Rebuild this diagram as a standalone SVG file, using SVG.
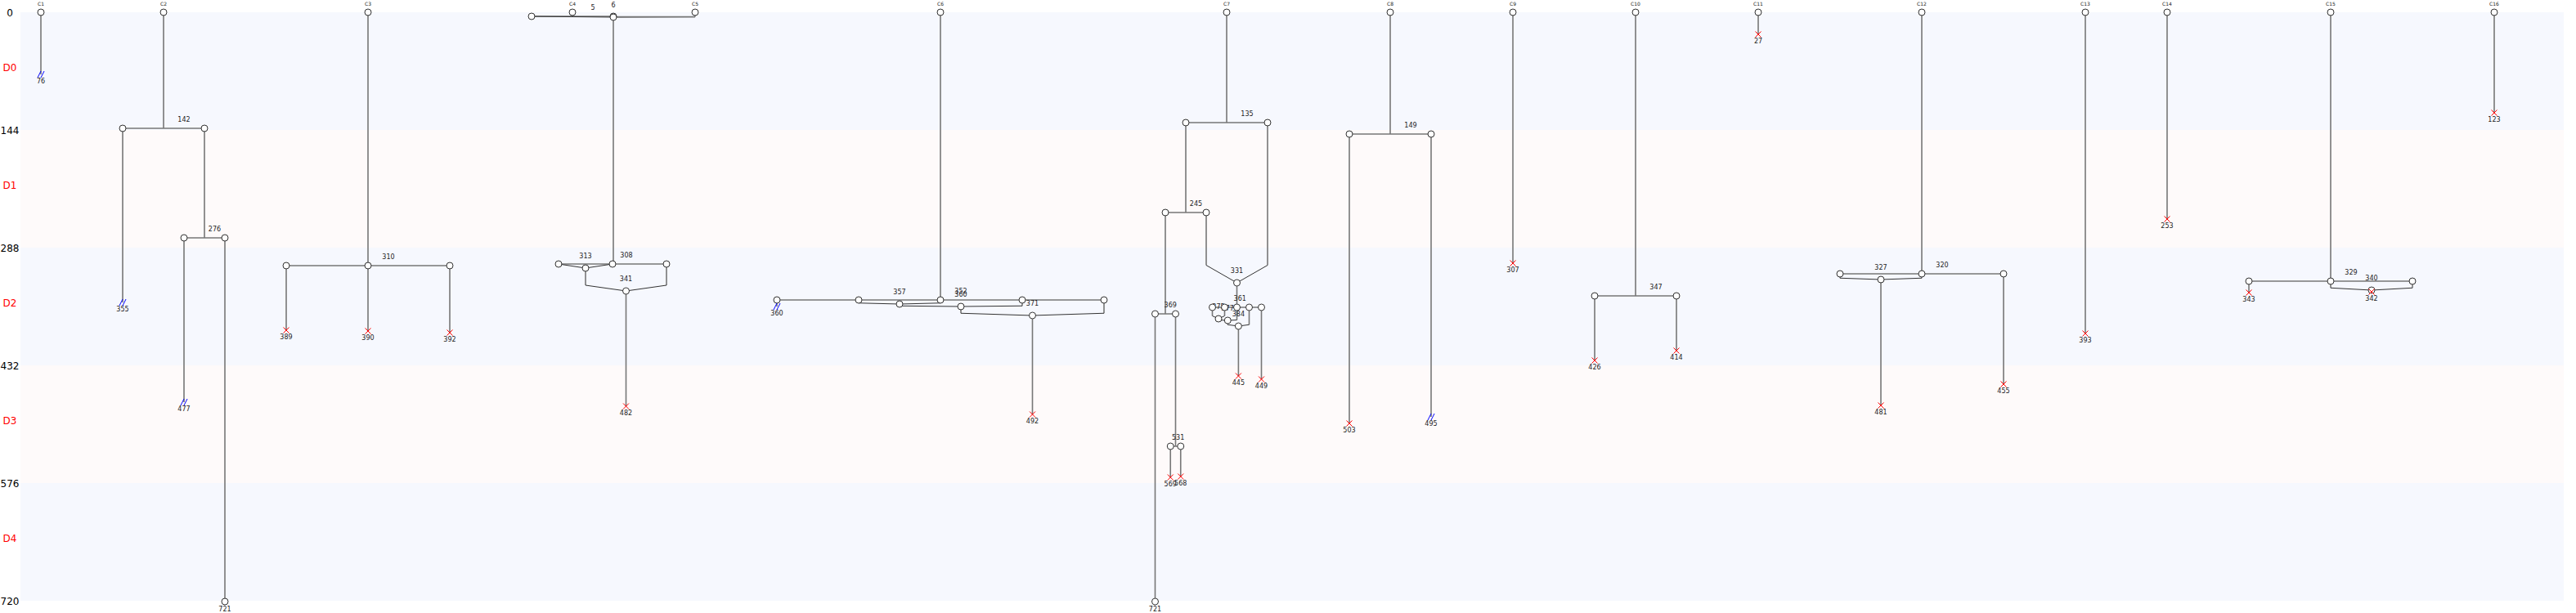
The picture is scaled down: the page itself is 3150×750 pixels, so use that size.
<svg xmlns="http://www.w3.org/2000/svg" width="3150" height="750" viewBox="0 0 3150 750">
<style>
.bb{fill:#f6f8fe}.bp{fill:#fefafa}
.ln{stroke:#777;stroke-width:1.6;fill:none}
.mg{stroke:#333;stroke-width:1;fill:none}
.nd{fill:#fff;stroke:#333;stroke-width:1}
.xm{stroke:#f00;stroke-width:1;fill:none}
.bk{stroke:#00f;stroke-width:1;fill:none}
text{font-family:"DejaVu Sans","Liberation Sans",sans-serif;text-anchor:middle}
.lb{font-size:8px;fill:#222}
.cl{font-size:6px;fill:#222}
.ax{font-size:12px;fill:#000}
.dl{font-size:12px;fill:#f00}
</style>
<defs>
<path id="X" class="xm" d="M-3.5,-3.5L3.5,3.5M-3.5,3.5L3.5,-3.5"/>
<path id="B" class="bk" d="M-4,4L0,-4M0,4L4,-4"/>
<circle id="O" class="nd" r="4"/>
</defs>
<g id="bands">
<rect class="bb" x="25" y="15" width="3110" height="144"/>
<rect class="bp" x="25" y="159" width="3110" height="144"/>
<rect class="bb" x="25" y="303" width="3110" height="144"/>
<rect class="bp" x="25" y="447" width="3110" height="144"/>
<rect class="bb" x="25" y="591" width="3110" height="144"/>
</g>
<g id="axis">
<text class="ax" x="12" y="19.5">0</text>
<text class="ax" x="12" y="163.5">144</text>
<text class="ax" x="12" y="307.5">288</text>
<text class="ax" x="12" y="451.5">432</text>
<text class="ax" x="12" y="595.5">576</text>
<text class="ax" x="12" y="739.5">720</text>
<text class="dl" x="12" y="87">D0</text>
<text class="dl" x="12" y="231">D1</text>
<text class="dl" x="12" y="375">D2</text>
<text class="dl" x="12" y="519">D3</text>
<text class="dl" x="12" y="663">D4</text>
</g>
<g id="connectors">
<path class="ln" d="M50,15V91"/>
<path class="ln" d="M200,15V157M150,157H250M150,157V370M250,157V291M225,291H275M225,291V492M275,291V736"/>
<path class="ln" d="M450,15V325M350,325H550M350,325V404M450,325V405M550,325V407"/>
<path class="ln" d="M700,15V20M650,20H750M850,15V20.5M750,21V323M683,323H815M716,328V349M815,323V349M765.5,356V497"/>
<path class="mg" d="M650,20L750,21M850,20.5L750,21M683,323L716,328M749,323L716,328M716,349L765.5,356M815,349L765.5,356"/>
<path class="ln" d="M850,20.6H752"/>
<path class="ln" d="M1150,15V367M950,367H1350M950,367V375M1050,367V370.75M1150,367V370.75M1100,372V374.25M1250,367V374.25M1175,375V383.25M1350,367V383.25M1262.5,386V507"/>
<path class="mg" d="M1050,370.75L1100,372M1150,370.75L1100,372M1100,374.25L1175,375M1250,374.25L1175,375M1175,383.25L1262.5,386M1350,383.25L1262.5,386"/>
<path class="ln" d="M1500,15V150M1450,150H1550M1450,150V260M1425,260H1475M1475,260V324.5M1550,150V324.5M1512.5,346V376M1482.5,376H1542.5M1482.5,376V386.5M1497.5,376V386.5M1490,390V391.5M1512.5,376V391.5M1501.25,392V397.25M1527.5,376V397.25M1514.4,399V460M1542.5,376V464"/>
<path class="mg" d="M1475,324.5L1512.5,346M1550,324.5L1512.5,346M1482.5,386.5L1490,390M1497.5,386.5L1490,390M1490,391.5L1501.25,392M1512.5,391.5L1501.25,392M1501.25,397.25L1514.4,399M1527.5,397.25L1514.4,399"/>
<path class="ln" d="M1425,260V384M1412.5,384H1437.5M1412.5,384V736M1437.5,384V546M1431.25,546H1443.75M1431.25,546V584M1443.75,546V583"/>
<path class="ln" d="M1700,15V164M1650,164H1750M1650,164V518M1750,164V510"/>
<path class="ln" d="M1850,15V322"/>
<path class="ln" d="M2000,15V362M1950,362H2050M1950,362V441M2050,362V429"/>
<path class="ln" d="M2150,15V42"/>
<path class="ln" d="M2350,15V335M2250,335H2450M2250,335V340.25M2350,335V340.25M2300,342V496M2450,335V470"/>
<path class="mg" d="M2250,340.25L2300,342M2350,340.25L2300,342"/>
<path class="ln" d="M2550,15V408"/>
<path class="ln" d="M2650,15V268"/>
<path class="ln" d="M2850,15V344M2750,344H2950M2750,344V358M2850,344V352.25M2950,344V352.25M2900,355V357"/>
<path class="mg" d="M2850,352.25L2900,355M2950,352.25L2900,355"/>
<path class="ln" d="M3050,15V138"/>
</g>
<g id="event-labels" class="lb">
<text class="lb" x="225" y="149">142</text>
<text class="lb" x="262.5" y="283">276</text>
<text class="lb" x="475" y="317">310</text>
<text class="lb" x="725" y="12">5</text>
<text class="lb" x="750" y="9">6</text>
<text class="lb" x="766" y="315">308</text>
<text class="lb" x="716" y="316">313</text>
<text class="lb" x="765.5" y="344">341</text>
<text class="lb" x="1175" y="359">352</text>
<text class="lb" x="1100" y="360">357</text>
<text class="lb" x="1175" y="363">360</text>
<text class="lb" x="1262.5" y="374">371</text>
<text class="lb" x="1525" y="142">135</text>
<text class="lb" x="1462.5" y="252">245</text>
<text class="lb" x="1512.5" y="334">331</text>
<text class="lb" x="1516.25" y="368">361</text>
<text class="lb" x="1490" y="378">375</text>
<text class="lb" x="1501.25" y="380">377</text>
<text class="lb" x="1514.4" y="387">384</text>
<text class="lb" x="1431.25" y="376">369</text>
<text class="lb" x="1440.6" y="538">531</text>
<text class="lb" x="1725" y="156">149</text>
<text class="lb" x="2025" y="354">347</text>
<text class="lb" x="2375" y="327">320</text>
<text class="lb" x="2300" y="330">327</text>
<text class="lb" x="2875" y="336">329</text>
<text class="lb" x="2900" y="343">340</text>
</g>
<g id="nodes">
<g id="C1"><use href="#O" x="50" y="15"/><text class="cl" x="50" y="7">C1</text></g>
<g id="C2"><use href="#O" x="200" y="15"/><text class="cl" x="200" y="7">C2</text></g>
<g id="C3"><use href="#O" x="450" y="15"/><text class="cl" x="450" y="7">C3</text></g>
<g id="C4"><use href="#O" x="700" y="15"/><text class="cl" x="700" y="7">C4</text></g>
<g id="C5"><use href="#O" x="850" y="15"/><text class="cl" x="850" y="7">C5</text></g>
<g id="C6"><use href="#O" x="1150" y="15"/><text class="cl" x="1150" y="7">C6</text></g>
<g id="C7"><use href="#O" x="1500" y="15"/><text class="cl" x="1500" y="7">C7</text></g>
<g id="C8"><use href="#O" x="1700" y="15"/><text class="cl" x="1700" y="7">C8</text></g>
<g id="C9"><use href="#O" x="1850" y="15"/><text class="cl" x="1850" y="7">C9</text></g>
<g id="C10"><use href="#O" x="2000" y="15"/><text class="cl" x="2000" y="7">C10</text></g>
<g id="C11"><use href="#O" x="2150" y="15"/><text class="cl" x="2150" y="7">C11</text></g>
<g id="C12"><use href="#O" x="2350" y="15"/><text class="cl" x="2350" y="7">C12</text></g>
<g id="C13"><use href="#O" x="2550" y="15"/><text class="cl" x="2550" y="7">C13</text></g>
<g id="C14"><use href="#O" x="2650" y="15"/><text class="cl" x="2650" y="7">C14</text></g>
<g id="C15"><use href="#O" x="2850" y="15"/><text class="cl" x="2850" y="7">C15</text></g>
<g id="C16"><use href="#O" x="3050" y="15"/><text class="cl" x="3050" y="7">C16</text></g>
<g id="n142a"><use href="#O" x="150" y="157"/></g>
<g id="n142b"><use href="#O" x="250" y="157"/></g>
<g id="n276a"><use href="#O" x="225" y="291"/></g>
<g id="n276b"><use href="#O" x="275" y="291"/></g>
<g id="n310a"><use href="#O" x="350" y="325"/></g>
<g id="n310b"><use href="#O" x="450" y="325"/></g>
<g id="n310c"><use href="#O" x="550" y="325"/></g>
<g id="n5a"><use href="#O" x="650" y="20"/></g>
<g id="n5b"><use href="#O" x="750" y="20"/></g>
<g id="n6"><use href="#O" x="750" y="21"/></g>
<g id="n313"><use href="#O" x="716" y="328"/></g>
<g id="n308a"><use href="#O" x="683" y="323"/></g>
<g id="n308b"><use href="#O" x="749" y="323"/></g>
<g id="n308c"><use href="#O" x="815" y="323"/></g>
<g id="n341"><use href="#O" x="765.5" y="356"/></g>
<g id="n357"><use href="#O" x="1100" y="372"/></g>
<g id="n360"><use href="#O" x="1175" y="375"/></g>
<g id="n371"><use href="#O" x="1262.5" y="386"/></g>
<g id="n352a"><use href="#O" x="950" y="367"/></g>
<g id="n352b"><use href="#O" x="1050" y="367"/></g>
<g id="n352c"><use href="#O" x="1150" y="367"/></g>
<g id="n352d"><use href="#O" x="1250" y="367"/></g>
<g id="n352e"><use href="#O" x="1350" y="367"/></g>
<g id="n135a"><use href="#O" x="1450" y="150"/></g>
<g id="n135b"><use href="#O" x="1550" y="150"/></g>
<g id="n245a"><use href="#O" x="1425" y="260"/></g>
<g id="n245b"><use href="#O" x="1475" y="260"/></g>
<g id="n331"><use href="#O" x="1512.5" y="346"/></g>
<g id="n375"><use href="#O" x="1490" y="390"/></g>
<g id="n377"><use href="#O" x="1501.25" y="392"/></g>
<g id="n384"><use href="#O" x="1514.4" y="399"/></g>
<g id="n361a"><use href="#O" x="1482.5" y="376"/></g>
<g id="n361b"><use href="#O" x="1497.5" y="376"/></g>
<g id="n361c"><use href="#O" x="1512.5" y="376"/></g>
<g id="n361d"><use href="#O" x="1527.5" y="376"/></g>
<g id="n361e"><use href="#O" x="1542.5" y="376"/></g>
<g id="n369a"><use href="#O" x="1412.5" y="384"/></g>
<g id="n369b"><use href="#O" x="1437.5" y="384"/></g>
<g id="n531a"><use href="#O" x="1431.25" y="546"/></g>
<g id="n531b"><use href="#O" x="1443.75" y="546"/></g>
<g id="n149a"><use href="#O" x="1650" y="164"/></g>
<g id="n149b"><use href="#O" x="1750" y="164"/></g>
<g id="n347a"><use href="#O" x="1950" y="362"/></g>
<g id="n347b"><use href="#O" x="2050" y="362"/></g>
<g id="n320a"><use href="#O" x="2250" y="335"/></g>
<g id="n320b"><use href="#O" x="2350" y="335"/></g>
<g id="n320c"><use href="#O" x="2450" y="335"/></g>
<g id="n327"><use href="#O" x="2300" y="342"/></g>
<g id="n329a"><use href="#O" x="2750" y="344"/></g>
<g id="n329b"><use href="#O" x="2850" y="344"/></g>
<g id="n329c"><use href="#O" x="2950" y="344"/></g>
<g id="n340"><use href="#O" x="2900" y="355"/></g>
<g id="e76"><use href="#B" x="50" y="91"/><text class="lb" x="50" y="102">76</text></g>
<g id="e355"><use href="#B" x="150" y="370"/><text class="lb" x="150" y="381">355</text></g>
<g id="e477"><use href="#B" x="225" y="492"/><text class="lb" x="225" y="503">477</text></g>
<g id="e721a"><use href="#O" x="275" y="736"/><text class="lb" x="275" y="747.5">721</text></g>
<g id="e389"><use href="#X" x="350" y="404"/><text class="lb" x="350" y="415">389</text></g>
<g id="e390"><use href="#X" x="450" y="405"/><text class="lb" x="450" y="416">390</text></g>
<g id="e392"><use href="#X" x="550" y="407"/><text class="lb" x="550" y="418">392</text></g>
<g id="e482"><use href="#X" x="765.5" y="497"/><text class="lb" x="765.5" y="508">482</text></g>
<g id="e360"><use href="#B" x="950" y="375"/><text class="lb" x="950" y="386">360</text></g>
<g id="e492"><use href="#X" x="1262.5" y="507"/><text class="lb" x="1262.5" y="518">492</text></g>
<g id="e445"><use href="#X" x="1514.4" y="460"/><text class="lb" x="1514.4" y="471">445</text></g>
<g id="e449"><use href="#X" x="1542.5" y="464"/><text class="lb" x="1542.5" y="475">449</text></g>
<g id="e721b"><use href="#O" x="1412.5" y="736"/><text class="lb" x="1412.5" y="747.5">721</text></g>
<g id="e569"><use href="#X" x="1431.25" y="584"/><text class="lb" x="1431.25" y="595">569</text></g>
<g id="e568"><use href="#X" x="1443.75" y="583"/><text class="lb" x="1443.75" y="594">568</text></g>
<g id="e503"><use href="#X" x="1650" y="518"/><text class="lb" x="1650" y="529">503</text></g>
<g id="e495"><use href="#B" x="1750" y="510"/><text class="lb" x="1750" y="521">495</text></g>
<g id="e307"><use href="#X" x="1850" y="322"/><text class="lb" x="1850" y="333">307</text></g>
<g id="e426"><use href="#X" x="1950" y="441"/><text class="lb" x="1950" y="452">426</text></g>
<g id="e414"><use href="#X" x="2050" y="429"/><text class="lb" x="2050" y="440">414</text></g>
<g id="e27"><use href="#X" x="2150" y="42"/><text class="lb" x="2150" y="53">27</text></g>
<g id="e481"><use href="#X" x="2300" y="496"/><text class="lb" x="2300" y="507">481</text></g>
<g id="e455"><use href="#X" x="2450" y="470"/><text class="lb" x="2450" y="481">455</text></g>
<g id="e393"><use href="#X" x="2550" y="408"/><text class="lb" x="2550" y="419">393</text></g>
<g id="e253"><use href="#X" x="2650" y="268"/><text class="lb" x="2650" y="279">253</text></g>
<g id="e343"><use href="#X" x="2750" y="358"/><text class="lb" x="2750" y="369">343</text></g>
<g id="e342"><use href="#X" x="2900" y="357"/><text class="lb" x="2900" y="368">342</text></g>
<g id="e123"><use href="#X" x="3050" y="138"/><text class="lb" x="3050" y="149">123</text></g>
</g>
</svg>
